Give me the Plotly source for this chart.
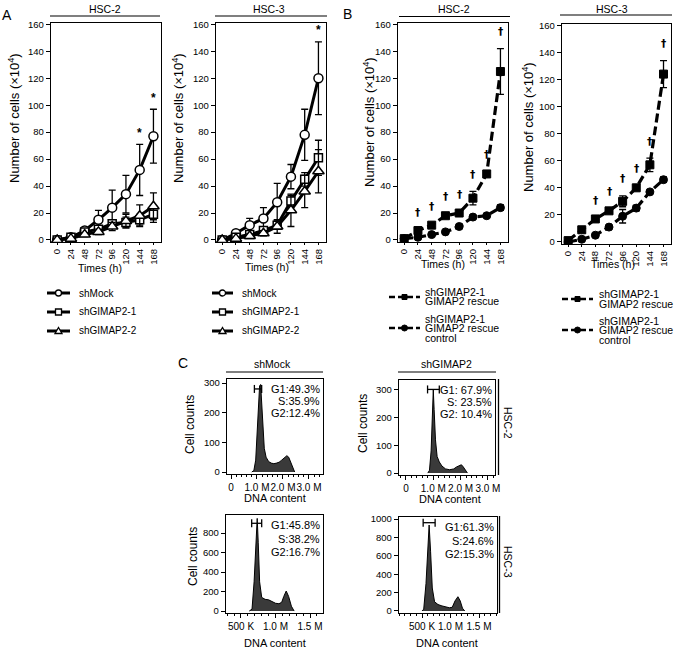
import plotly.graph_objects as go

W, H = 677, 651
FONT = "Liberation Sans, Arial, Helvetica, sans-serif"

# ---------------- data ----------------
times = [0, 24, 48, 72, 96, 120, 144, 168]

# Panel A, HSC-2
a_hsc2_mock = [0, 2, 7, 15, 24, 34, 52, 77]
a_hsc2_mock_err = [0.5, 1, 2, 7, 13, 14, 19, 20]
a_hsc2_sh1 = [0, 2, 6, 8, 12, 13, 15, 19]
a_hsc2_sh1_err = [0.5, 1, 1.5, 2, 3, 4, 4, 6]
a_hsc2_sh2 = [0, 1, 4, 6, 10, 14, 18, 25]
a_hsc2_sh2_err = [0.5, 1, 1.5, 2, 3, 5, 8, 10]
a_hsc2_star = [144, 168]

# Panel A, HSC-3
a_hsc3_mock = [0, 5, 11, 16, 28, 47, 78, 120]
a_hsc3_mock_err = [0.5, 1, 5, 8, 14, 9, 19, 27]
a_hsc3_sh1 = [0, 2, 4, 7, 11, 29, 45, 61]
a_hsc3_sh1_err = [0.5, 1, 1.5, 2, 3, 4, 5, 13]
a_hsc3_sh2 = [0, 1, 3, 5, 10, 22, 36, 51]
a_hsc3_sh2_err = [0.5, 1, 1.5, 2, 5, 12, 12, 16]
a_hsc3_star = [168]

# Panel B, HSC-2
b_hsc2_rescue = [1, 7, 11, 18, 20, 31, 49, 125]
b_hsc2_rescue_err = [0.5, 1, 1, 2, 1.5, 5, 1.5, 17]
b_hsc2_ctrl = [1, 2, 4, 6, 10, 17, 18, 24]
b_hsc2_ctrl_err = [0.5, 0.5, 0.5, 1, 1, 1, 1, 2]
b_hsc2_dagger = [24, 48, 72, 96, 120, 144, 168]

# Panel B, HSC-3
b_hsc3_rescue = [1, 9, 17, 23, 30, 40, 57, 124]
b_hsc3_rescue_err = [0.5, 2, 1, 1.5, 4, 1.5, 5, 10]
b_hsc3_ctrl = [0, 2, 5, 11, 19, 25, 37, 46]
b_hsc3_ctrl_err = [0.5, 1, 1, 1, 5, 2, 1, 2]
b_hsc3_dagger = [48, 72, 96, 120, 144, 168]

# Panel C histograms (DNA content in millions, cell counts)
c_mock2_dna = [0.80, 0.88, 0.95, 1.00, 1.05, 1.10, 1.14, 1.18, 1.22, 1.28, 1.35, 1.45, 1.55,
               1.65, 1.75, 1.85, 1.95, 2.05, 2.15, 2.22, 2.30, 2.38, 2.45]
c_mock2_cnt = [0, 5, 40, 120, 230, 290, 295, 230, 150, 80, 50, 35, 30,
               28, 30, 33, 40, 48, 55, 50, 30, 10, 0]
c_gimap2_dna = [0.80, 0.86, 0.92, 0.97, 1.00, 1.03, 1.08, 1.14, 1.22, 1.32, 1.45, 1.60,
                1.75, 1.85, 1.95, 2.03, 2.10, 2.18, 2.25]
c_gimap2_cnt = [0, 10, 80, 200, 300, 230, 120, 60, 40, 25, 15, 12,
                15, 22, 28, 30, 22, 8, 0]
c_mock3_dna = [0.62, 0.66, 0.69, 0.715, 0.735, 0.75, 0.77, 0.80, 0.85, 0.90, 0.95, 1.00,
               1.05, 1.09, 1.12, 1.155, 1.19, 1.23, 1.27]
c_mock3_cnt = [0, 20, 300, 750, 950, 700, 300, 140, 120, 115, 95, 80,
               75, 90, 150, 205, 150, 50, 0]
c_gimap3_dna = [0.50, 0.53, 0.57, 0.60, 0.625, 0.65, 0.68, 0.72, 0.78, 0.85, 0.92, 0.98,
                1.03, 1.08, 1.13, 1.17, 1.21, 1.25]
c_gimap3_cnt = [0, 20, 300, 750, 935, 650, 250, 100, 70, 55, 45, 35,
                40, 110, 155, 110, 30, 0]

# gates: (low, high, level)
c_gates = {
    "mock2": (0.90, 1.18, 280),
    "gimap2": (0.79, 1.22, 302),
    "mock3": (0.655, 0.80, 900),
    "gimap3": (0.52, 0.73, 960),
}
c_pct = {
    "mock2": ["G1:49.3%", "S:35.9%", "G2:12.4%"],
    "gimap2": ["G1: 67.9%", "S: 23.5%", "G2: 10.4%"],
    "mock3": ["G1:45.8%", "S:38.2%", "G2:16.7%"],
    "gimap3": ["G1:61.3%", "S:24.6%", "G2:15.3%"],
}


# ---------------- helpers ----------------
def px(x):
    return x / W


def py(y):
    return 1 - y / H


def dx(x0, x1):
    return [x0 / W, x1 / W]


def dy(top, bottom):
    return [1 - bottom / H, 1 - top / H]


fig = go.Figure()
annotations = []
shapes = []


def txt(x, y, s, size=10.5, xanchor="center", yanchor="middle", angle=0, **kw):
    annotations.append(dict(x=px(x), y=py(y), xref="paper", yref="paper", text=s,
                            showarrow=False, xanchor=xanchor, yanchor=yanchor,
                            textangle=angle, font=dict(family=FONT, size=size, color="black"),
                            **kw))


def hline(x0, x1, y, w=1.0, dash="solid"):
    shapes.append(dict(type="line", xref="paper", yref="paper", x0=px(x0), x1=px(x1),
                       y0=py(y), y1=py(y), line=dict(color="black", width=w, dash=dash)))


def vline(x, y0, y1, w=1.0):
    shapes.append(dict(type="line", xref="paper", yref="paper", x0=px(x), x1=px(x),
                       y0=py(y0), y1=py(y1), line=dict(color="black", width=w)))


ERR = dict(type="data", visible=True, thickness=1.3, width=3.5, color="black")

# ---------------- growth curves ----------------
growth_axes = [
    # (axis id, left, right, top, bottom)
    ("", 51, 161, 23, 242),
    ("2", 216, 326, 23, 242),
    ("3", 398, 508, 23, 242),
    ("4", 562, 671, 24, 244),
]

open_series = [
    ("", [(a_hsc2_mock, a_hsc2_mock_err, "circle", 9),
          (a_hsc2_sh1, a_hsc2_sh1_err, "square", 8),
          (a_hsc2_sh2, a_hsc2_sh2_err, "triangle-up", 10)]),
    ("2", [(a_hsc3_mock, a_hsc3_mock_err, "circle", 9),
           (a_hsc3_sh1, a_hsc3_sh1_err, "square", 8),
           (a_hsc3_sh2, a_hsc3_sh2_err, "triangle-up", 10)]),
]
names_a = ["shMock", "shGIMAP2-1", "shGIMAP2-2"]
for ax, series in open_series:
    for (vals, errs, sym, size), nm in zip(series, names_a):
        e = dict(ERR)
        e["array"] = errs
        fig.add_trace(go.Scatter(
            x=times, y=vals, name=nm, mode="lines+markers",
            line=dict(color="black", width=3),
            marker=dict(symbol=sym, size=size, color="white", line=dict(color="black", width=1.5)),
            error_y=e, xaxis="x" + ax, yaxis="y" + ax, showlegend=False))

dash_series = [
    ("3", [(b_hsc2_rescue, b_hsc2_rescue_err, "square"), (b_hsc2_ctrl, b_hsc2_ctrl_err, "circle")]),
    ("4", [(b_hsc3_rescue, b_hsc3_rescue_err, "square"), (b_hsc3_ctrl, b_hsc3_ctrl_err, "circle")]),
]
names_b = ["shGIMAP2-1 GIMAP2 rescue", "shGIMAP2-1 GIMAP2 rescue control"]
for ax, series in dash_series:
    for (vals, errs, sym), nm in zip(series, names_b):
        e = dict(ERR)
        e["array"] = errs
        fig.add_trace(go.Scatter(
            x=times, y=vals, name=nm, mode="lines+markers",
            line=dict(color="black", width=3.2, dash="9px,4px"),
            marker=dict(symbol=sym, size=8, color="black", line=dict(color="black", width=1)),
            error_y=e, xaxis="x" + ax, yaxis="y" + ax, showlegend=False))

# significance marks
for ax, marks, vals, errs, sym, off in [
    ("", a_hsc2_star, a_hsc2_mock, a_hsc2_mock_err, "*", 2),
    ("2", a_hsc3_star, a_hsc3_mock, a_hsc3_mock_err, "*", 2),
    ("3", b_hsc2_dagger, b_hsc2_rescue, b_hsc2_rescue_err, "†", 7),
    ("4", b_hsc3_dagger, b_hsc3_rescue, b_hsc3_rescue_err, "†", 7),
]:
    for t in marks:
        i = times.index(t)
        if sym == "*":
            f = dict(family=FONT, size=12, color="black")
        else:
            f = dict(family="DejaVu Sans, " + FONT, size=10.5, color="black")
        annotations.append(dict(x=t, y=vals[i] + errs[i] + off, xref="x" + ax, yref="y" + ax,
                                text="<b>" + sym + "</b>", showarrow=False, yanchor="bottom",
                                font=f))

axis_common = dict(showline=True, mirror=True, linecolor="black", linewidth=1.2,
                   ticks="outside", tickcolor="black", showgrid=False, zeroline=False,
                   automargin=False, tickfont=dict(family=FONT, size=9.5, color="black"))

for ax, l, r, t, b in growth_axes:
    fig.update_layout(**{
        "xaxis" + ax: dict(axis_common, domain=dx(l, r), range=[-10.8, 181.2],
                           tickvals=times, ticktext=[str(v) for v in times],
                           tickangle=-90, ticklen=2, anchor="y" + ax),
        "yaxis" + ax: dict(axis_common, domain=dy(t, b), range=[-1.5, 161],
                           tickvals=[0, 20, 40, 60, 80, 100, 120, 140, 160], ticklen=4,
                           anchor="x" + ax),
    })

# headers / titles for growth panels
for (cx, x0, x1, yl, lab) in [(105, 50, 160, 16, "HSC-2"), (269, 215, 327, 16, "HSC-3"),
                              (454, 399, 510, 16.5, "HSC-2"), (612, 560, 672, 15, "HSC-3")]:
    txt(cx, 8.5, lab, size=10.5)
    hline(x0, x1, yl, w=1.2)

ytitle = "Number of cells (×10<sup>4</sup>)"
for x, yc in [(14, 118), (178, 118), (369, 122), (528, 127)]:
    txt(x, yc, ytitle, size=13, angle=-90)
for x, yc in [(100, 268), (267, 267), (443, 264), (613, 264)]:
    txt(x, yc, "Times (h)", size=10.5)

txt(7, 15, "A", size=14)
txt(347, 14, "B", size=14)
txt(183, 363, "C", size=14)

# legends for panel A
for x0, x1, xt in [(47, 70, 77), (212, 233, 240)]:
    xm = (x0 + x1) / 2
    for yy, sym, nm in zip([293, 312, 331], ["circle", "square", "triangle"], names_a):
        hline(x0, x1, yy, w=3)
        if sym == "circle":
            shapes.append(dict(type="circle", xref="paper", yref="paper",
                               x0=px(xm - 3), x1=px(xm + 3), y0=py(yy + 3), y1=py(yy - 3),
                               fillcolor="white", line=dict(color="black", width=1.3)))
        elif sym == "square":
            shapes.append(dict(type="rect", xref="paper", yref="paper",
                               x0=px(xm - 3), x1=px(xm + 3), y0=py(yy + 3), y1=py(yy - 3),
                               fillcolor="white", line=dict(color="black", width=1.3)))
        else:
            path = "M {:.5f},{:.5f} L {:.5f},{:.5f} L {:.5f},{:.5f} Z".format(
                px(xm - 3.5), py(yy + 2.5), px(xm + 3.5), py(yy + 2.5), px(xm), py(yy - 3.5))
            shapes.append(dict(type="path", xref="paper", yref="paper", path=path,
                               fillcolor="white", line=dict(color="black", width=1.3)))
        txt(xt, yy, nm, size=10, xanchor="left")

# legends for panel B
for x0, x1, xt, yoff in [(389, 420, 423, 0), (562, 593, 597, 2)]:
    xm = (x0 + x1) / 2
    # rescue
    yl = 297 + yoff
    hline(x0, x1, yl, w=2.5, dash="6px,3px")
    shapes.append(dict(type="rect", xref="paper", yref="paper",
                       x0=px(xm - 2.5), x1=px(xm + 2.5), y0=py(yl + 2.5), y1=py(yl - 2.5),
                       fillcolor="black", line=dict(color="black", width=1)))
    txt(xt, 292 + yoff, "shGIMAP2-1", size=10.5, xanchor="left")
    txt(xt, 301.5 + yoff, "GIMAP2 rescue", size=10.5, xanchor="left")
    # control
    yl = 328 + yoff
    hline(x0, x1, yl, w=2.5, dash="6px,3px")
    shapes.append(dict(type="circle", xref="paper", yref="paper",
                       x0=px(xm - 3), x1=px(xm + 3), y0=py(yl + 3), y1=py(yl - 3),
                       fillcolor="black", line=dict(color="black", width=1)))
    txt(xt, 318.5 + yoff, "shGIMAP2-1", size=10.5, xanchor="left")
    txt(xt, 328 + yoff, "GIMAP2 rescue", size=10.5, xanchor="left")
    txt(xt, 337.5 + yoff, "control", size=10.5, xanchor="left")

# ---------------- cell cycle histograms ----------------
hist_panels = [
    # key, axis id, dna, counts, dom x, dom y, x range, y range, xticks, xlabels, yticks, minor
    ("mock2", "5", c_mock2_dna, c_mock2_cnt, (227, 323), (379, 474), [-0.154, 3.54], [-6.7, 313.5],
     [0, 1, 2, 3], ["0", "1.0 M", "2.0 M", "3.0 M"], [0, 100, 200, 300], 0.2),
    ("gimap2", "6", c_gimap2_dna, c_gimap2_cnt, (399, 495), (380, 475), [-0.256, 3.26], [-7, 336],
     [0, 1, 2, 3], ["0", "1.0 M", "2.0 M", "3.0 M"], [0, 100, 200, 300], 0.2),
    ("mock3", "7", c_mock3_dna, c_mock3_cnt, (226, 323), (515, 613), [0.283, 1.688], [-20, 985],
     [0.5, 1.0, 1.5], ["500 K", "1.0 M", "1.5 M"], [0, 200, 400, 600, 800], 0.1),
    ("gimap3", "8", c_gimap3_dna, c_gimap3_cnt, (399, 497), (517, 613), [0.096, 1.816], [-22, 1022],
     [0.5, 1.0, 1.5], ["500 K", "1.0 M", "1.5 M"], [0, 200, 400, 600, 800, 1000], 0.1),
]

for key, ax, dna, cnt, (l, r), (t, b), xr, yr, xtv, xtt, ytv, mdt in hist_panels:
    fig.add_trace(go.Scatter(x=dna, y=cnt, mode="lines", fill="tozeroy",
                             fillcolor="#3a3a3a", line=dict(color="black", width=1),
                             xaxis="x" + ax, yaxis="y" + ax, showlegend=False))
    fig.update_layout(**{
        "xaxis" + ax: dict(axis_common, domain=dx(l, r), range=xr, tickvals=xtv, ticktext=xtt,
                           ticklen=4, tickangle=0, anchor="y" + ax,
                           tickfont=dict(family=FONT, size=10, color="black"),
                           minor=dict(dtick=mdt, ticklen=2, ticks="outside", tickcolor="black")),
        "yaxis" + ax: dict(axis_common, domain=dy(t, b), range=yr, tickvals=ytv, ticklen=4,
                           anchor="x" + ax),
    })
    lo, hi, lev = c_gates[key]
    shapes.append(dict(type="line", xref="x" + ax, yref="y" + ax, x0=lo, x1=hi, y0=lev, y1=lev,
                       line=dict(color="black", width=1.3)))
    for gx in (lo, hi):
        shapes.append(dict(type="line", xref="x" + ax, yref="y" + ax, ysizemode="pixel",
                           yanchor=lev, x0=gx, x1=gx, y0=-4, y1=4,
                           line=dict(color="black", width=1.3)))
    # percentages
    step = 12 if t < 450 else 13.5
    for k, s in enumerate(c_pct[key]):
        txt(r - 1, t + 10 + k * step, s, size=11, xanchor="right")

# C headers
txt(272, 364, "shMock", size=10.5)
hline(226, 323, 372, w=1.2)
txt(446, 364, "shGIMAP2", size=10.5)
hline(398, 496, 372, w=1.2)

# right-hand cell-line labels with double lines
vline(498.5, 379, 475, w=1.3)
vline(499.5, 516, 613, w=1.3)
txt(508, 423, "HSC-2", size=10.5, angle=90)
txt(508, 562, "HSC-3", size=10.5, angle=90)

# C axis titles
for x, yc in [(190, 424), (363, 424), (193, 557)]:
    txt(x, yc, "Cell counts", size=12, angle=-90)
for x, yc in [(275, 498), (450, 499), (275, 643), (447, 643)]:
    txt(x, yc, "DNA content", size=11)

fig.update_layout(width=W, height=H, margin=dict(l=0, r=0, t=0, b=0), autosize=False,
                  paper_bgcolor="white", plot_bgcolor="white", showlegend=False,
                  annotations=annotations, shapes=shapes, hovermode=False,
                  font=dict(family=FONT, size=10, color="black"))

fig.write_html("out.html", config={"displayModeBar": False, "staticPlot": True},
               post_script="document.body.style.margin='0px';"
                           "document.body.style.overflow='hidden';")
